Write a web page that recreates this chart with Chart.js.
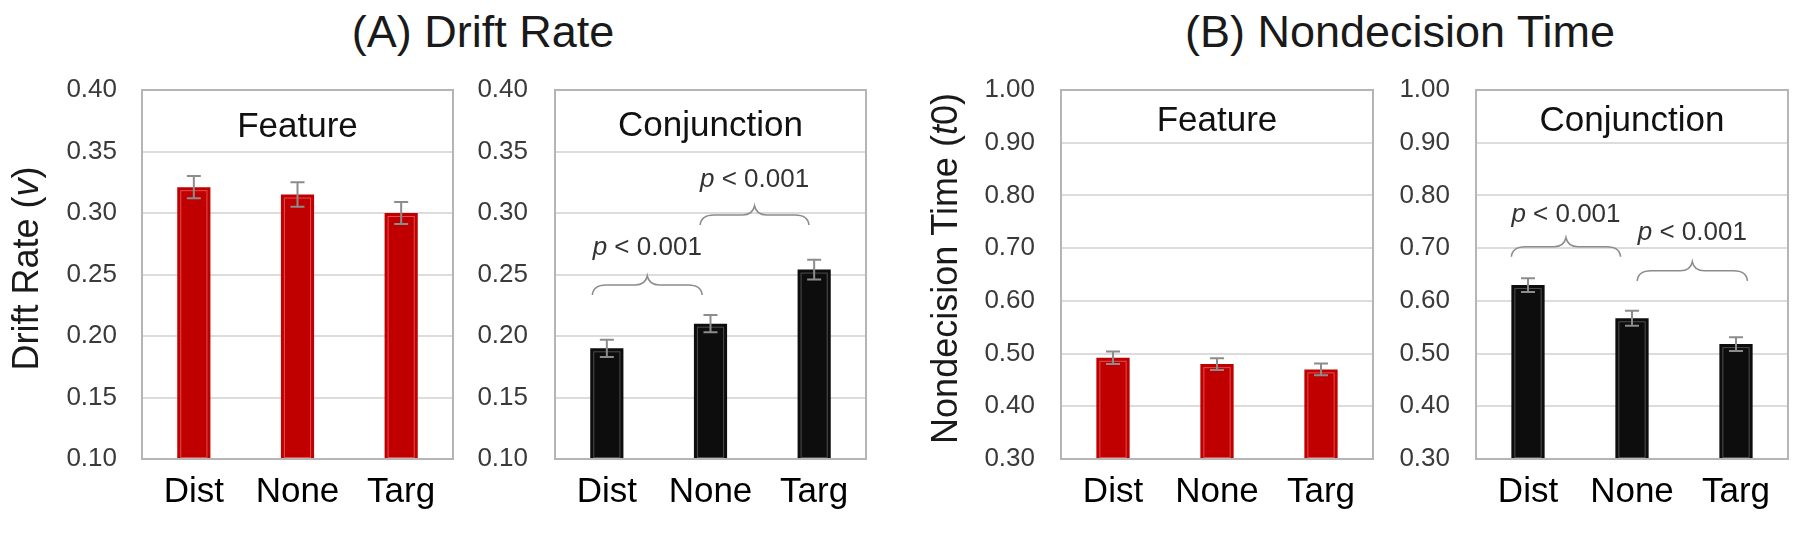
<!DOCTYPE html>
<html>
<head>
<meta charset="utf-8">
<script src="https://cdn.jsdelivr.net/npm/chart.js@4.4.0/dist/chart.umd.min.js"></script>
<style>
  body { margin: 0; background: #fff; width: 1800px; height: 536px; position: relative; overflow: hidden;
         font-family: "Liberation Sans", Arial, sans-serif; }
  canvas { position: absolute; top: 0; }
  .title { position: absolute; top: 9px; font-size: 45px; line-height: 1; color: #1a1a1a;
           white-space: nowrap; transform: translateX(-50%); }
</style>
</head>
<body>
<div class="title" style="left:483px">(A) Drift Rate</div>
<div class="title" style="left:1400px">(B) Nondecision Time</div>
<canvas id="driftFeat" width="462" height="536" style="left:0px"></canvas>
<canvas id="driftConj" width="400" height="536" style="left:470px"></canvas>
<canvas id="ndtFeat" width="500" height="536" style="left:880px"></canvas>
<canvas id="ndtConj" width="410" height="536" style="left:1390px"></canvas>
<script>
const categories = ['Dist', 'None', 'Targ'];

const driftTicks = [0.10, 0.15, 0.20, 0.25, 0.30, 0.35, 0.40];
const ndtTicks = [0.30, 0.40, 0.50, 0.60, 0.70, 0.80, 0.90, 1.00];

const driftFeature = [0.321, 0.315, 0.300];
const driftFeatureErr = [0.009, 0.010, 0.009];
const driftConjunction = [0.190, 0.210, 0.254];
const driftConjunctionErr = [0.007, 0.007, 0.008];

const ndtFeature = [0.492, 0.480, 0.470];
const ndtFeatureErr = [0.012, 0.011, 0.011];
const ndtConjunction = [0.630, 0.567, 0.518];
const ndtConjunctionErr = [0.013, 0.014, 0.013];

// significance braces: from/to in category index, y = flat line value, ty = label value
const driftBraces = [
  { from: -0.14, to: 0.92, y: 0.2415, ty: 0.2715, text: '0.001' },
  { from: 0.90, to: 1.95, y: 0.2984, ty: 0.3268, text: '0.001' }
];
const ndtBraces = [
  { from: -0.16, to: 0.89, y: 0.7027, ty: 0.763, text: '0.001' },
  { from: 1.05, to: 2.11, y: 0.657, ty: 0.729, text: '0.001' }
];

const FONT = '"Liberation Sans", Arial, sans-serif';
const H = 536, PLOT_TOP = 90, PLOT_BOTTOM = 459;

function richText(ctx, parts, size, x, y, rotate) {
  ctx.save();
  ctx.translate(x, y);
  if (rotate) ctx.rotate(-Math.PI / 2);
  let total = 0;
  parts.forEach(p => { ctx.font = (p.i ? 'italic ' : '') + size + 'px ' + FONT; total += ctx.measureText(p.t).width; });
  let cx = -total / 2;
  ctx.textAlign = 'left';
  ctx.textBaseline = 'middle';
  parts.forEach(p => {
    ctx.font = (p.i ? 'italic ' : '') + size + 'px ' + FONT;
    ctx.fillText(p.t, cx, 0);
    cx += ctx.measureText(p.t).width;
  });
  ctx.restore();
}

function brace(ctx, x0, x1, y) {
  const xm = (x0 + x1) / 2;
  ctx.beginPath();
  ctx.moveTo(x0, y + 10);
  ctx.quadraticCurveTo(x0 + 1, y, x0 + 14, y);
  ctx.lineTo(xm - 12, y);
  ctx.quadraticCurveTo(xm - 2, y, xm, y - 9);
  ctx.quadraticCurveTo(xm + 2, y, xm + 12, y);
  ctx.lineTo(x1 - 14, y);
  ctx.quadraticCurveTo(x1 - 1, y, x1, y + 10);
  ctx.stroke();
}

function makePanel(id, cfg) {
  const deco = {
    id: 'deco',
    afterDatasetsDraw(chart) {
      const ctx = chart.ctx, a = chart.chartArea;
      const xs = chart.scales.x, ys = chart.scales.y;
      const meta = chart.getDatasetMeta(0);
      ctx.save();
      meta.data.forEach((bar, i) => {
        const p = bar.getProps(['x', 'y', 'base', 'width'], true);
        const base = Math.min(p.base, a.bottom);
        ctx.strokeStyle = cfg.inner;
        ctx.lineWidth = 1;
        ctx.strokeRect(p.x - p.width / 2 + 3.5, p.y + 3.5, p.width - 7, base - p.y - 5);
        const v = cfg.values[i], e = cfg.errors[i];
        const yHi = ys.getPixelForValue(v + e), yLo = ys.getPixelForValue(v - e);
        ctx.strokeStyle = '#8c8c8c';
        ctx.lineWidth = 2;
        ctx.beginPath();
        ctx.moveTo(p.x, yHi); ctx.lineTo(p.x, yLo);
        ctx.moveTo(p.x - 7, yHi); ctx.lineTo(p.x + 7, yHi);
        ctx.moveTo(p.x - 7, yLo); ctx.lineTo(p.x + 7, yLo);
        ctx.stroke();
      });
      ctx.strokeStyle = '#b5b5b5';
      ctx.lineWidth = 2;
      ctx.strokeRect(a.left, a.top, a.right - a.left, a.bottom - a.top);

      ctx.fillStyle = '#111';
      ctx.font = '35px ' + FONT;
      ctx.textAlign = 'center';
      ctx.textBaseline = 'middle';
      ctx.fillText(cfg.label, (a.left + a.right) / 2, a.top + cfg.labelDy);

      (cfg.braces || []).forEach(b => {
        const x0 = xs.getPixelForValue(b.from), x1 = xs.getPixelForValue(b.to);
        ctx.strokeStyle = '#8c8c8c';
        ctx.lineWidth = 1.6;
        brace(ctx, x0, x1, ys.getPixelForValue(b.y));
        ctx.fillStyle = '#333';
        richText(ctx, [{ t: 'p', i: true }, { t: ' < ' + b.text }], 26,
                 (x0 + x1) / 2, ys.getPixelForValue(b.ty), false);
      });

      if (cfg.yTitle) {
        ctx.fillStyle = '#1a1a1a';
        richText(ctx, cfg.yTitle, 36, a.left - 114, (a.top + a.bottom) / 2 - 6, true);
      }
      ctx.restore();
    }
  };

  return new Chart(document.getElementById(id), {
    type: 'bar',
    data: {
      labels: categories,
      datasets: [{
        data: cfg.values,
        backgroundColor: cfg.color,
        borderWidth: 0,
        barPercentage: 0.32,
        categoryPercentage: 1
      }]
    },
    options: {
      responsive: false,
      animation: false,
      layout: { padding: { top: PLOT_TOP, right: cfg.padRight, left: 0, bottom: 0 } },
      plugins: { legend: { display: false }, tooltip: { enabled: false } },
      scales: {
        x: {
          grid: { display: false, drawTicks: false },
          border: { display: false },
          ticks: { color: '#000', font: { family: FONT, size: 35 }, padding: 12 },
          afterFit(s) { s.height = H - PLOT_BOTTOM; }
        },
        y: {
          min: cfg.ticks[0],
          max: cfg.ticks[cfg.ticks.length - 1],
          afterBuildTicks(s) { s.ticks = cfg.ticks.map(v => ({ value: v })); },
          grid: { color: '#dcdcdc', lineWidth: 2, drawTicks: false },
          border: { display: false },
          ticks: {
            color: '#3a3a3a',
            font: { family: FONT, size: 26 },
            padding: cfg.tickPad,
            callback: v => Number(v).toFixed(2)
          },
          afterFit(s) { s.width = cfg.left; }
        }
      }
    },
    plugins: [deco]
  });
}

makePanel('driftFeat', {
  values: driftFeature, errors: driftFeatureErr, ticks: driftTicks,
  color: '#c00000', inner: 'rgba(255,140,140,0.55)', label: 'Feature', labelDy: 37,
  left: 142, padRight: 9, tickPad: 25,
  yTitle: [{ t: 'Drift Rate (' }, { t: 'v', i: true }, { t: ')' }]
});
makePanel('driftConj', {
  values: driftConjunction, errors: driftConjunctionErr, ticks: driftTicks,
  color: '#0d0d0d', inner: 'rgba(120,120,120,0.6)', label: 'Conjunction', labelDy: 36,
  left: 85, padRight: 4, tickPad: 27, braces: driftBraces
});
makePanel('ndtFeat', {
  values: ndtFeature, errors: ndtFeatureErr, ticks: ndtTicks,
  color: '#c00000', inner: 'rgba(255,140,140,0.55)', label: 'Feature', labelDy: 31,
  left: 181, padRight: 7, tickPad: 26,
  yTitle: [{ t: 'Nondecision Time (' }, { t: 't', i: true }, { t: '0)' }]
});
makePanel('ndtConj', {
  values: ndtConjunction, errors: ndtConjunctionErr, ticks: ndtTicks,
  color: '#0d0d0d', inner: 'rgba(120,120,120,0.6)', label: 'Conjunction', labelDy: 31,
  left: 86, padRight: 12, tickPad: 26, braces: ndtBraces
});
</script>
</body>
</html>
